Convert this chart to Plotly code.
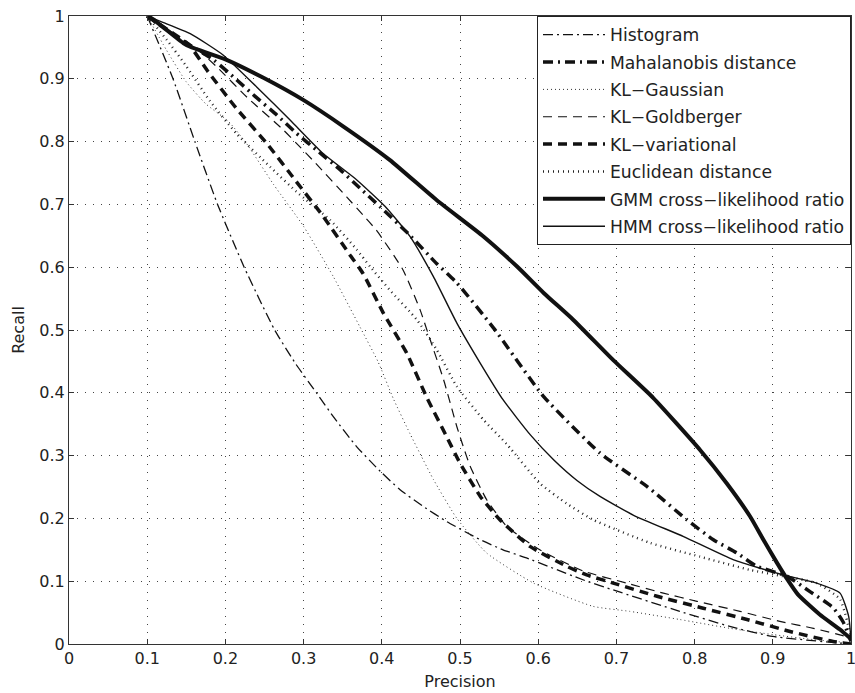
import plotly.graph_objects as go

# ---------------- data (precision, recall) ----------------
hist_p = [0.100, 0.133, 0.161, 0.190, 0.224, 0.263, 0.290, 0.317, 0.338, 0.368, 0.398, 0.423, 0.453, 0.483,
          0.526, 0.555, 0.585, 0.662, 0.696, 0.781, 0.845, 0.900, 1.000]
hist_r = [1.000, 0.900, 0.800, 0.700, 0.600, 0.500, 0.446, 0.399, 0.362, 0.314, 0.275, 0.246, 0.219, 0.195,
          0.166, 0.150, 0.137, 0.100, 0.086, 0.052, 0.028, 0.012, 0.000]

maha_p = [0.100, 0.140, 0.185, 0.212, 0.238, 0.266, 0.291, 0.319, 0.347, 0.372, 0.398, 0.435, 0.470, 0.496,
          0.543, 0.607, 0.679, 0.739, 0.790, 0.824, 0.854, 0.879, 0.918, 0.948, 0.977, 0.990, 1.000]
maha_r = [1.000, 0.965, 0.930, 0.901, 0.872, 0.842, 0.813, 0.784, 0.755, 0.726, 0.696, 0.652, 0.606, 0.575,
          0.503, 0.394, 0.304, 0.251, 0.198, 0.166, 0.145, 0.124, 0.108, 0.083, 0.058, 0.035, 0.004]

klgauss_p = [0.100, 0.125, 0.150, 0.175, 0.204, 0.227, 0.262, 0.300, 0.338, 0.372, 0.395, 0.415, 0.436,
             0.466, 0.496, 0.534, 0.594, 0.670, 0.717, 0.781, 0.845, 0.900, 0.952, 1.000]
klgauss_r = [1.000, 0.945, 0.895, 0.860, 0.832, 0.797, 0.731, 0.665, 0.585, 0.505, 0.450, 0.390, 0.335,
             0.262, 0.200, 0.145, 0.097, 0.060, 0.052, 0.039, 0.025, 0.015, 0.007, 0.002]

klgold_p = [0.100, 0.130, 0.165, 0.189, 0.229, 0.273, 0.295, 0.315, 0.355, 0.376, 0.393, 0.427, 0.449, 0.462,
            0.479, 0.496, 0.504, 0.513, 0.534, 0.560, 0.602, 0.658, 0.713, 0.760, 0.803, 0.858, 0.909, 0.952, 1.000]
klgold_r = [1.000, 0.975, 0.946, 0.919, 0.869, 0.820, 0.792, 0.766, 0.712, 0.683, 0.659, 0.596, 0.532, 0.484,
            0.421, 0.346, 0.315, 0.283, 0.230, 0.187, 0.150, 0.116, 0.097, 0.081, 0.068, 0.052, 0.036, 0.025, 0.010]

klvar_p = [0.100, 0.130, 0.153, 0.178, 0.214, 0.253, 0.289, 0.325, 0.359, 0.376, 0.402, 0.432, 0.457, 0.483,
           0.500, 0.526, 0.551, 0.590, 0.636, 0.662, 0.696, 0.752, 0.811, 0.867, 0.922, 0.977, 1.000]
klvar_r = [1.000, 0.975, 0.955, 0.911, 0.853, 0.797, 0.739, 0.681, 0.620, 0.590, 0.527, 0.463, 0.394, 0.330,
           0.288, 0.235, 0.198, 0.155, 0.124, 0.110, 0.097, 0.076, 0.057, 0.039, 0.020, 0.004, 0.000]

eucl_p = [0.100, 0.125, 0.150, 0.180, 0.214, 0.257, 0.291, 0.334, 0.368, 0.385, 0.410, 0.445, 0.470,
          0.496, 0.530, 0.560, 0.602, 0.636, 0.670, 0.743, 0.807, 0.871, 0.913, 0.956, 0.986, 1.000]
eucl_r = [1.000, 0.962, 0.920, 0.865, 0.813, 0.760, 0.720, 0.675, 0.628, 0.601, 0.564, 0.516, 0.469,
          0.410, 0.357, 0.318, 0.256, 0.224, 0.198, 0.161, 0.139, 0.118, 0.108, 0.097, 0.071, 0.010]

gmm_p = [0.100, 0.106, 0.146, 0.155, 0.200, 0.248, 0.300, 0.351, 0.410, 0.470, 0.530, 0.573, 0.607, 0.645,
         0.696, 0.747, 0.807, 0.841, 0.871, 0.888, 0.905, 0.918, 0.932, 0.960, 0.986, 1.000]
gmm_r = [1.000, 0.996, 0.957, 0.951, 0.931, 0.902, 0.866, 0.824, 0.771, 0.707, 0.649, 0.601, 0.559, 0.516,
         0.452, 0.392, 0.309, 0.256, 0.203, 0.166, 0.130, 0.104, 0.079, 0.047, 0.023, 0.008]

hmm_p = [0.100, 0.120, 0.155, 0.197, 0.240, 0.283, 0.325, 0.368, 0.404, 0.436, 0.466, 0.496, 0.526, 0.555,
         0.590, 0.620, 0.650, 0.679, 0.722, 0.786, 0.850, 0.913, 0.956, 0.986, 0.997, 1.000]
hmm_r = [1.000, 0.990, 0.972, 0.938, 0.887, 0.834, 0.781, 0.739, 0.697, 0.649, 0.585, 0.511, 0.447, 0.389,
         0.333, 0.293, 0.260, 0.235, 0.205, 0.171, 0.134, 0.110, 0.097, 0.081, 0.044, 0.005]

names = ["Histogram", "Mahalanobis distance", "KL\u2212Gaussian", "KL\u2212Goldberger", "KL\u2212variational",
         "Euclidean distance", "GMM cross\u2212likelihood ratio", "HMM cross\u2212likelihood ratio"]
series_p = [hist_p, maha_p, klgauss_p, klgold_p, klvar_p, eucl_p, gmm_p, hmm_p]
series_r = [hist_r, maha_r, klgauss_r, klgold_r, klvar_r, eucl_r, gmm_r, hmm_r]

styles = [
    dict(width=1.3, dash="10px,4px,2px,4px", color="#111"),
    dict(width=3.5, dash="10px,5px,2px,5px", color="#111"),
    dict(width=1.0, dash="1px,3px", color="#333"),
    dict(width=1.2, dash="9px,6px", color="#111"),
    dict(width=3.5, dash="9px,6px", color="#111"),
    dict(width=2.4, dash="1px,4px", color="#222"),
    dict(width=4.0, dash="solid", color="#111"),
    dict(width=1.4, dash="solid", color="#111"),
]

font_family = "DejaVu Sans"

fig = go.Figure()
for i, (nm, px, rc, st) in enumerate(zip(names, series_p, series_r, styles)):
    fig.add_trace(go.Scatter(
        x=px, y=rc, name=nm, mode="lines", legendgroup=f"g{i}",
        line=dict(color=st["color"], width=st["width"], dash=st["dash"], shape="spline", smoothing=0.5),
    ))

axis_common = dict(
    range=[0, 1], dtick=0.1, tick0=0, automargin=False,
    showgrid=True, gridcolor="#444", gridwidth=1, griddash="1px,7px",
    zeroline=False, showline=True, linecolor="#333", linewidth=1, mirror="ticks",
    ticks="inside", ticklen=5, tickcolor="#333", ticklabeloverflow="allow",
    tickfont=dict(family=font_family, size=16, color="#222"),
)

fig.update_layout(
    width=855, height=693,
    margin=dict(l=69, r=4, t=16, b=49),
    paper_bgcolor="white", plot_bgcolor="white",
    font=dict(family=font_family, size=16, color="#222"),
    xaxis=dict(**axis_common, title=dict(text="Precision", font=dict(size=16), standoff=8)),
    yaxis=dict(**axis_common, title=dict(text="Recall", font=dict(size=16), standoff=10)),
    legend=dict(
        x=1, y=1, xanchor="right", yanchor="top",
        bordercolor="#222", borderwidth=1, bgcolor="white",
        font=dict(family=font_family, size=17.2, color="#222"),
        traceorder="grouped", tracegroupgap=2, itemwidth=62,
    ),
    showlegend=True,
)

fig.write_html("out.html")
